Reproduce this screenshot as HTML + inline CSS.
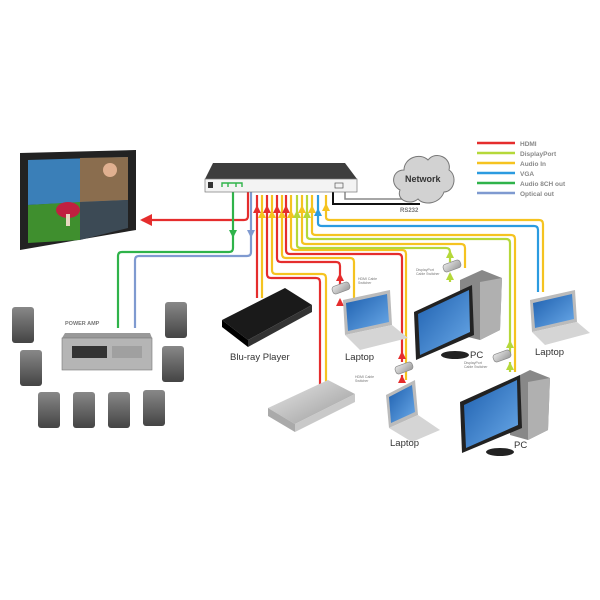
<!DOCTYPE html>
<html><head><style>
html,body{margin:0;padding:0;background:#fff;width:600px;height:600px;overflow:hidden}
svg text{font-family:"Liberation Sans",sans-serif}
</style></head><body>
<svg width="600" height="600" viewBox="0 0 600 600" xmlns="http://www.w3.org/2000/svg">
<defs>
<linearGradient id="scr" x1="0" y1="0" x2="1" y2="1"><stop offset="0" stop-color="#1d5fae"/><stop offset="1" stop-color="#6aa9e8"/></linearGradient>
<linearGradient id="gr" x1="0" y1="0" x2="0" y2="1"><stop offset="0" stop-color="#888"/><stop offset="1" stop-color="#444"/></linearGradient>
<linearGradient id="sil" x1="0" y1="0" x2="1" y2="1"><stop offset="0" stop-color="#e8e8e8"/><stop offset="1" stop-color="#999"/></linearGradient>
</defs>

<!-- legend -->
<g stroke-width="2.5">
<line x1="477" y1="143" x2="515" y2="143" stroke="#e52d2d"/>
<line x1="477" y1="153" x2="515" y2="153" stroke="#b5d83a"/>
<line x1="477" y1="163" x2="515" y2="163" stroke="#f5c320"/>
<line x1="477" y1="173" x2="515" y2="173" stroke="#2b9be0"/>
<line x1="477" y1="183" x2="515" y2="183" stroke="#2fb34a"/>
<line x1="477" y1="193" x2="515" y2="193" stroke="#7f9ad0"/>
</g>
<g font-size="6.5" fill="#888" font-weight="bold">
<text x="520" y="146">HDMI</text><text x="520" y="156">DisplayPort</text><text x="520" y="166">Audio In</text>
<text x="520" y="176">VGA</text><text x="520" y="186">Audio 8CH out</text><text x="520" y="196">Optical out</text>
</g>

<!-- network -->
<path d="M333 192 V204 H420" fill="none" stroke="#111" stroke-width="2"/>
<path d="M345 192 V199 H402" fill="none" stroke="#888" stroke-width="1.5"/>
<path d="M400 190 C390 185 392 170 404 170 C404 158 420 152 428 160 C436 150 452 158 449 170 C458 176 454 192 444 192 C440 204 424 206 418 199 C410 206 396 200 400 190Z" fill="#d2d2d2" stroke="#777"/>
<text x="405" y="182" font-size="9" font-weight="bold" fill="#333">Network</text>
<text x="400" y="212" font-size="6" fill="#777" font-weight="bold">RS232</text>

<!-- cables -->
<g fill="none" stroke-width="2.2" stroke-linejoin="round">
<path d="M248 192 V216 Q248 220 244 220 H142" stroke="#e52d2d"/>
<path d="M233 192 V248 Q233 252 229 252 H122 Q118 252 118 256 V328" stroke="#2fb34a"/>
<path d="M251 192 V252 Q251 256 247 256 H139 Q135 256 135 260 V328" stroke="#7f9ad0"/>
<path d="M257 195 V298" stroke="#e52d2d"/>
<path d="M262 195 V298" stroke="#f5c320"/>
<path d="M267 195 V274 Q267 278 271 278 H316 Q320 278 320 282 V385" stroke="#e52d2d"/>
<path d="M272 195 V270 Q272 274 276 274 H322 Q326 274 326 278 V385" stroke="#f5c320"/>
<path d="M277 195 V258 Q277 262 281 262 H336 Q340 262 340 266 V285" stroke="#e52d2d"/>
<path d="M282 195 V254 Q282 258 286 258 H350 Q354 258 354 262 V300" stroke="#f5c320"/>
<path d="M286 195 V250 Q286 254 290 254 H398 Q402 254 402 258 V362" stroke="#e52d2d"/>
<path d="M291 195 V246 Q291 250 295 250 H402 Q406 250 406 254 V380" stroke="#f5c320"/>
<path d="M297 195 V245 Q297 248 301 248 H446 Q450 248 450 252 V262" stroke="#b5d83a"/>
<path d="M302 195 V241 Q302 244 306 244 H461 Q465 244 465 248 V268" stroke="#f5c320"/>
<path d="M307 195 V236 Q307 239 311 239 H506 Q510 239 510 243 V355" stroke="#b5d83a"/>
<path d="M312 195 V232 Q312 235 316 235 H511 Q515 235 515 239 V372" stroke="#f5c320"/>
<path d="M318 195 V223 Q318 226 322 226 H534 Q538 226 538 230 V292" stroke="#2b9be0"/>
<path d="M326 195 V217 Q326 220 330 220 H539 Q543 220 543 224 V292" stroke="#f5c320"/>
<path d="M340 300 V306" stroke="#e52d2d"/>
<path d="M402 375 V382" stroke="#e52d2d"/>
<path d="M450 274 V282" stroke="#b5d83a"/>
<path d="M510 362 V372" stroke="#b5d83a"/>
</g>
<!-- arrowheads -->
<g>
<polygon points="140,220 152,214 152,226" fill="#e52d2d"/>
<polygon points="233,238 229,230 237,230" fill="#2fb34a"/>
<polygon points="251,238 247,230 255,230" fill="#7f9ad0"/>
<polygon points="257,205 253,213 261,213" fill="#e52d2d"/>
<polygon points="262,210 258,218 266,218" fill="#f5c320"/>
<polygon points="267,205 263,213 271,213" fill="#e52d2d"/>
<polygon points="272,210 268,218 276,218" fill="#f5c320"/>
<polygon points="277,205 273,213 281,213" fill="#e52d2d"/>
<polygon points="282,210 278,218 286,218" fill="#f5c320"/>
<polygon points="286,205 282,213 290,213" fill="#e52d2d"/>
<polygon points="291,210 287,218 295,218" fill="#f5c320"/>
<polygon points="297,210 293,218 301,218" fill="#b5d83a"/>
<polygon points="302,205 298,213 306,213" fill="#f5c320"/>
<polygon points="307,210 303,218 311,218" fill="#b5d83a"/>
<polygon points="312,205 308,213 316,213" fill="#f5c320"/>
<polygon points="318,208 314,216 322,216" fill="#2b9be0"/>
<polygon points="326,203 322,211 330,211" fill="#f5c320"/>
<polygon points="340,273 336,281 344,281" fill="#e52d2d"/>
<polygon points="340,298 336,306 344,306" fill="#e52d2d"/>
<polygon points="402,351 398,359 406,359" fill="#e52d2d"/>
<polygon points="402,375 398,383 406,383" fill="#e52d2d"/>
<polygon points="450,250 446,258 454,258" fill="#b5d83a"/>
<polygon points="450,272 446,280 454,280" fill="#b5d83a"/>
<polygon points="510,340 506,348 514,348" fill="#b5d83a"/>
<polygon points="510,362 506,370 514,370" fill="#b5d83a"/>
</g>
<!-- cable switchers -->
<g fill="url(#sil)" stroke="#888" stroke-width=".7">
<rect x="332" y="284" width="18" height="8" rx="3" transform="rotate(-20 341 288)"/>
<rect x="395" y="364" width="18" height="8" rx="3" transform="rotate(-20 404 368)"/>
<rect x="443" y="262" width="18" height="8" rx="3" transform="rotate(-20 452 266)"/>
<rect x="493" y="352" width="18" height="8" rx="3" transform="rotate(-20 502 356)"/>
</g>
<g font-size="3.5" fill="#777">
<text x="358" y="280">HDMI Cable</text><text x="358" y="284">Switcher</text>
<text x="355" y="378">HDMI Cable</text><text x="355" y="382">Switcher</text>
<text x="416" y="271">DisplayPort</text><text x="416" y="275">Cable Switcher</text>
<text x="464" y="364">DisplayPort</text><text x="464" y="368">Cable Switcher</text>
</g>

<!-- switch -->
<polygon points="213,163 345,163 357,179 205,179" fill="#3d3d3d"/>
<rect x="205" y="179" width="152" height="13" fill="#f3f3f3" stroke="#777" stroke-width=".7"/>
<rect x="208" y="182" width="5" height="6" fill="#333"/>
<path d="M222 187 V183 H242 V187 M228 183V187 M236 183V187" stroke="#2fb34a" stroke-width="1.4" fill="none"/>
<rect x="335" y="183" width="8" height="5" fill="none" stroke="#555" stroke-width=".7"/>

<!-- TV -->
<polygon points="20,153 136,150 136,230 20,250" fill="#222"/>
<polygon points="28,160 128,157 128,200 28,205" fill="#3a7fb8"/>
<polygon points="80,158 128,157 128,200 80,202" fill="#8a6d4e"/>
<polygon points="28,205 80,202 80,240 28,243" fill="#3f8f2e"/>
<polygon points="80,202 128,200 128,228 80,240" fill="#3c4a55"/>
<ellipse cx="68" cy="210" rx="12" ry="8" fill="#c02040"/>
<rect x="66" y="214" width="4" height="12" fill="#e8d8c0"/>
<circle cx="110" cy="170" r="7" fill="#e0b090"/>

<!-- speakers & amp -->
<g fill="url(#gr)">
<rect x="12" y="307" width="22" height="36" rx="3"/>
<rect x="20" y="350" width="22" height="36" rx="3"/>
<rect x="38" y="392" width="22" height="36" rx="3"/>
<rect x="73" y="392" width="22" height="36" rx="3"/>
<rect x="108" y="392" width="22" height="36" rx="3"/>
<rect x="143" y="390" width="22" height="36" rx="3"/>
<rect x="165" y="302" width="22" height="36" rx="3"/>
<rect x="162" y="346" width="22" height="36" rx="3"/>
</g>
<text x="65" y="325" font-size="5.5" fill="#777" font-weight="bold">POWER AMP</text>
<polygon points="65,333 150,333 152,338 62,338" fill="#999"/>
<rect x="62" y="338" width="90" height="32" fill="#b5b5b5" stroke="#777" stroke-width=".6"/>
<rect x="72" y="346" width="35" height="12" fill="#333"/>
<rect x="112" y="346" width="30" height="12" fill="#a0a0a0"/>

<!-- Blu-ray -->
<polygon points="222,320 285,288 312,305 248,340" fill="#1a1a1a"/>
<polygon points="222,320 248,340 248,347 222,327" fill="#000"/>
<polygon points="248,340 312,305 312,312 248,347" fill="#333"/>
<text x="230" y="360" font-size="9.5" fill="#333">Blu-ray Player</text>

<!-- DVD silver -->
<polygon points="268,408 328,380 355,394 295,424" fill="url(#sil)"/>
<polygon points="268,408 295,424 295,432 268,416" fill="#aaa"/>
<polygon points="295,424 355,394 355,402 295,432" fill="#c9c9c9"/>

<!-- laptop 1 -->
<polygon points="343,300 390,290 392,325 345,335" fill="#bbb"/>
<polygon points="346,303 387,294 389,322 348,331" fill="url(#scr)"/>
<polygon points="345,335 392,325 408,338 360,350" fill="#d5d5d5"/>
<text x="345" y="360" font-size="9.5" fill="#333">Laptop</text>
<!-- laptop 3 -->
<polygon points="530,300 575,290 577,322 532,332" fill="#bbb"/>
<polygon points="533,303 572,294 574,319 535,328" fill="url(#scr)"/>
<polygon points="532,332 577,322 590,333 545,345" fill="#d5d5d5"/>
<text x="535" y="355" font-size="9.5" fill="#333">Laptop</text>
<!-- laptop 2 -->
<polygon points="386,395 415,380 418,415 389,428" fill="#bbb"/>
<polygon points="389,397 412,385 415,412 391,423" fill="url(#scr)"/>
<polygon points="389,428 418,415 440,430 412,442" fill="#d5d5d5"/>
<text x="390" y="446" font-size="9.5" fill="#333">Laptop</text>

<!-- PC1 -->
<polygon points="460,280 482,270 502,278 500,330 480,340 460,335" fill="#888"/>
<polygon points="480,282 502,278 500,330 480,340" fill="#b0b0b0"/>
<polygon points="414,312 472,285 474,335 416,360" fill="#222"/>
<polygon points="418,314 469,290 470,332 420,355" fill="url(#scr)"/>
<ellipse cx="455" cy="355" rx="14" ry="4" fill="#222"/>
<text x="470" y="358" font-size="9.5" fill="#333">PC</text>
<!-- PC2 -->
<polygon points="510,380 530,370 550,378 548,430 528,440 510,435" fill="#888"/>
<polygon points="528,382 550,378 548,430 528,440" fill="#b0b0b0"/>
<polygon points="460,402 520,375 522,428 462,453" fill="#222"/>
<polygon points="464,405 517,380 518,425 466,448" fill="url(#scr)"/>
<ellipse cx="500" cy="452" rx="14" ry="4" fill="#222"/>
<text x="514" y="448" font-size="9.5" fill="#333">PC</text>
</svg>
</body></html>
